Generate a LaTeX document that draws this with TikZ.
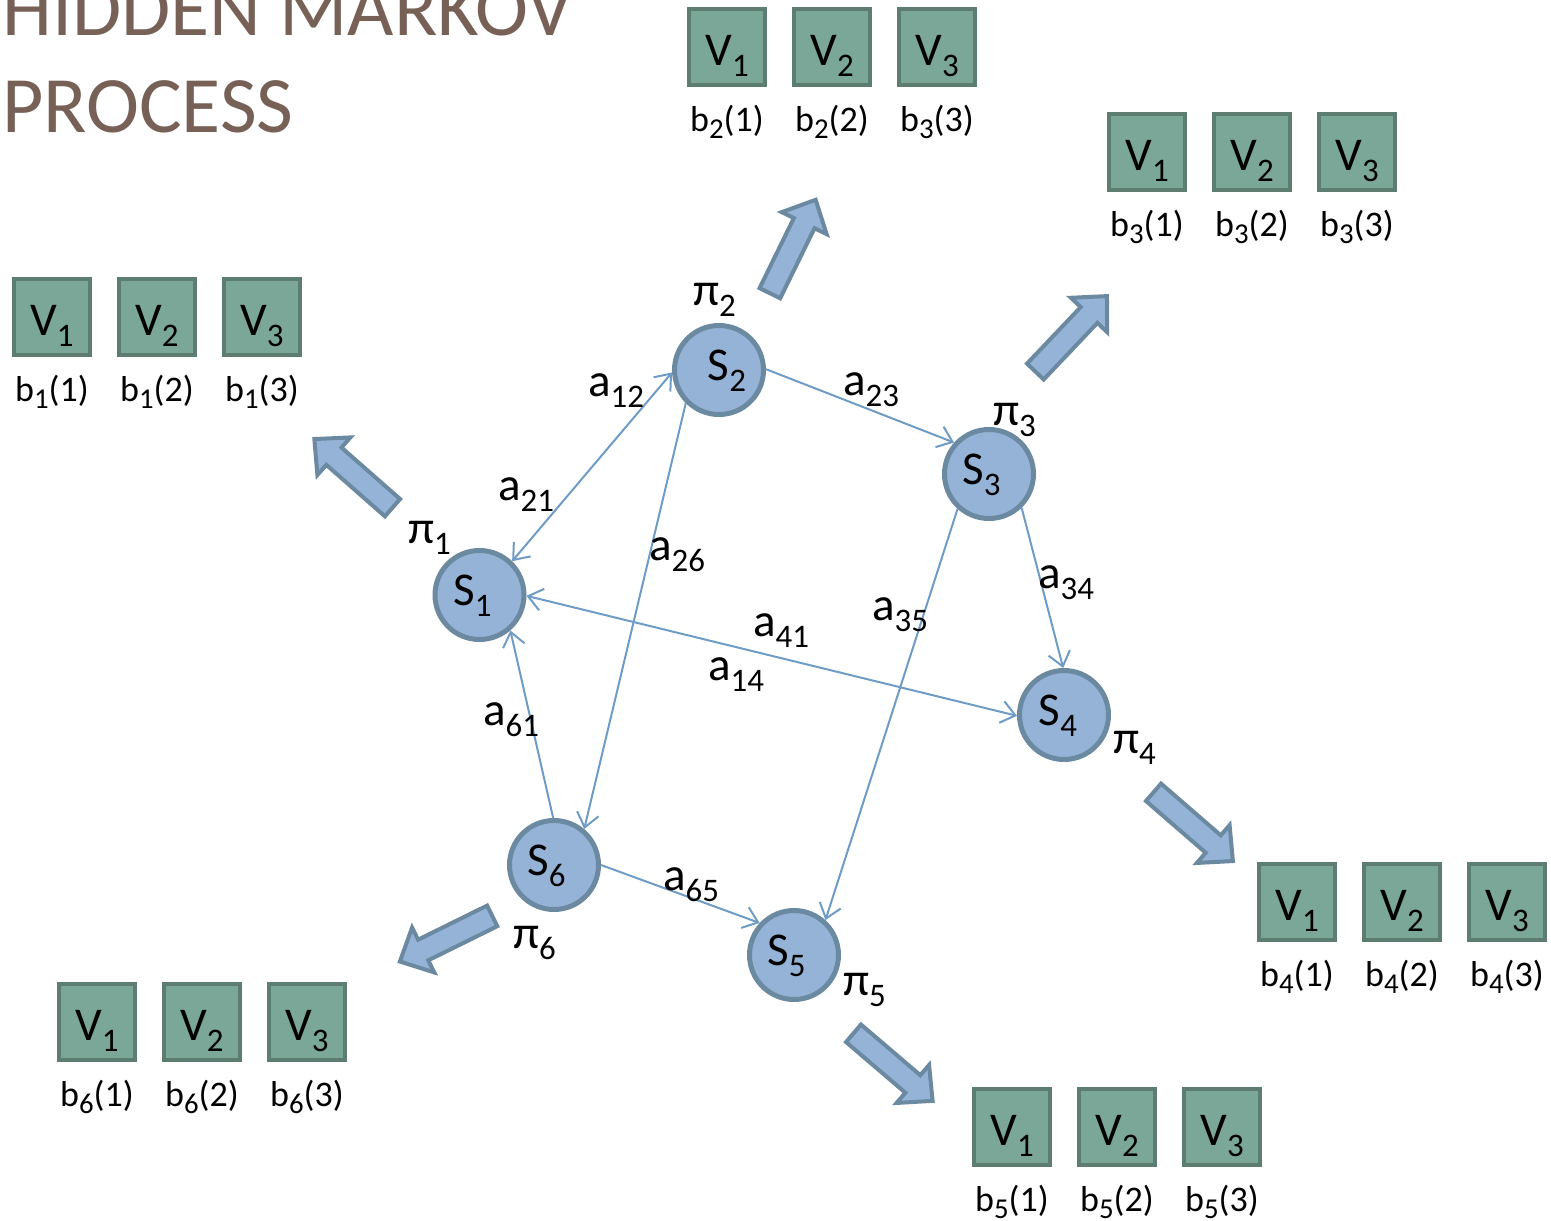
\documentclass[tikz,border=0pt]{standalone}
\usepackage{fontspec}
\setmainfont{Carlito}
\usepackage{graphicx}
\usetikzlibrary{arrows.meta}

\definecolor{statefill}{RGB}{149,179,214}
\definecolor{stateline}{RGB}{108,137,162}
\definecolor{symfill}{RGB}{122,167,151}
\definecolor{symline}{RGB}{92,125,112}
\definecolor{edgecol}{RGB}{111,156,199}
\definecolor{titlecol}{RGB}{119,97,87}

% lowered, reduced index
\newcommand\lo[1]{\raisebox{-0.25em}{\scalebox{0.7}{#1}}}
\newcommand\blo[1]{\raisebox{-0.2em}{\scalebox{0.8}{#1}}}

% fat block arrow: tail point, direction angle, length
\newcommand\blockarrow[3]{%
  \begin{scope}[shift={#1}, rotate=#2]
    \draw[fatarrow] (2pt,11.5pt) -- ({#3pt-29pt},11.5pt) -- ({#3pt-29pt},25pt)
      -- ({#3pt-3pt},0pt) -- ({#3pt-29pt},-25pt) -- ({#3pt-29pt},-11.5pt)
      -- (2pt,-11.5pt) -- cycle;
  \end{scope}}

% a row of three observation symbols with their probabilities
\newcommand\emitgroup[6]{%
  \node[sym] (v#1a) at (#2,#3) {V\lo{1}};
  \node[sym] (v#1b) at (#2+105,#3) {V\lo{2}};
  \node[sym] (v#1c) at (#2+210,#3) {V\lo{3}};
  \node[blab] (b#1a) at (#2,#3+84) {b\blo{#4}(1)};
  \node[blab] (b#1b) at (#2+105,#3+84) {b\blo{#5}(2)};
  \node[blab] (b#1c) at (#2+210,#3+84) {b\blo{#6}(3)};}

\tikzset{
  barb/.tip={Straight Barb[length=14pt,width=22pt]},
  hstate/.style={circle, draw=stateline, fill=statefill, line width=5pt,
    minimum size=89pt, inner sep=0pt, font=\fontsize{47}{47}\selectfont,
    text height=24pt, text depth=4pt},
  sym/.style={rectangle, draw=symline, fill=symfill, line width=4pt,
    minimum size=76pt, inner sep=0pt, font=\fontsize{47}{47}\selectfont,
    text height=36pt, text depth=0pt},
  blab/.style={anchor=base, inner sep=0pt, font=\fontsize{36}{36}\selectfont},
  lab/.style={anchor=base west, inner sep=0pt, font=\fontsize{47}{47}\selectfont},
  link/.style={draw=edgecol, line width=2pt},
  fatarrow/.style={draw=stateline, fill=statefill, line width=4pt, line join=miter},
  title/.style={anchor=base west, inner sep=0pt, text=titlecol,
    font=\fontsize{80}{97}\selectfont},
}

\begin{document}
\begin{tikzpicture}[x=1pt, y=-1pt]
\useasboundingbox (0,0) rectangle (1551,1221);

% title
\node[title] (t1) at (2,35) {HIDDEN MARKOV};
\node[title] (t2) at (2,132) {PROCESS};

% hidden states
\node[hstate] (s1) at (479.5,595) {S\lo{1}\kern14pt};
\node[hstate] (s2) at (719,370) {\kern16pt S\lo{2}};
\node[hstate] (s3) at (989,474) {S\lo{3}\kern15pt};
\node[hstate] (s4) at (1064,715) {S\lo{4}\kern12pt};
\node[hstate] (s5) at (794,955) {S\lo{5}\kern15pt};
\node[hstate] (s6) at (554,865) {S\lo{6}\kern15pt};

% transitions
\draw[link, barb-barb] (s1.46) -- (s2.183);
\draw[link, -barb] (s2.225) -- (s6.50);
\draw[link, -barb] (s2.1) -- (s3.138);
\draw[link, -barb] (s3.-46) -- (s4.91);
\draw[link, -barb] (s3.228) -- (s5.48);
\draw[link, barb-barb] (s1.-1) -- (s4.181);
\draw[link, -barb] (s6.91) -- (s1.-49);
\draw[link, -barb] (s6.0) -- (s5.137);

% transition probabilities
\node[lab] (a12) at (588,396) {a\lo{12}};
\node[lab] (a21) at (498,500) {a\lo{21}};
\node[lab] (a26) at (649,560) {a\lo{26}};
\node[lab] (a23) at (843,395) {a\lo{23}};
\node[lab] (a34) at (1038,588) {a\lo{34}};
\node[lab] (a35) at (872,620) {a\lo{35}};
\node[lab] (a41) at (753,636) {a\lo{41}};
\node[lab] (a14) at (708,680) {a\lo{14}};
\node[lab] (a61) at (483,725) {a\lo{61}};
\node[lab] (a65) at (663,890) {a\lo{65}};

% initial probabilities
\node[lab] (p1) at (408,543) {π\lo{1}};
\node[lab] (p2) at (693,305) {π\lo{2}};
\node[lab] (p3) at (993,425) {π\lo{3}};
\node[lab] (p4) at (1113,753) {π\lo{4}};
\node[lab] (p5) at (843,995) {π\lo{5}};
\node[lab] (p6) at (513,948) {π\lo{6}};

% emission arrows
\blockarrow{(394,509)}{138.7}{109}
\blockarrow{(769,295)}{63.9}{109}
\blockarrow{(1034,373)}{46.5}{109}
\blockarrow{(1152,791)}{-40.9}{110}
\blockarrow{(852,1032)}{-40.5}{109}
\blockarrow{(494,915)}{206.3}{108}

% observation symbols
\emitgroup{1}{52}{317}{1}{1}{1}
\emitgroup{2}{727}{47}{2}{2}{3}
\emitgroup{3}{1147}{152}{3}{3}{3}
\emitgroup{4}{1297}{902}{4}{4}{4}
\emitgroup{5}{1012}{1127}{5}{5}{5}
\emitgroup{6}{97}{1022}{6}{6}{6}
\end{tikzpicture}
\end{document}
